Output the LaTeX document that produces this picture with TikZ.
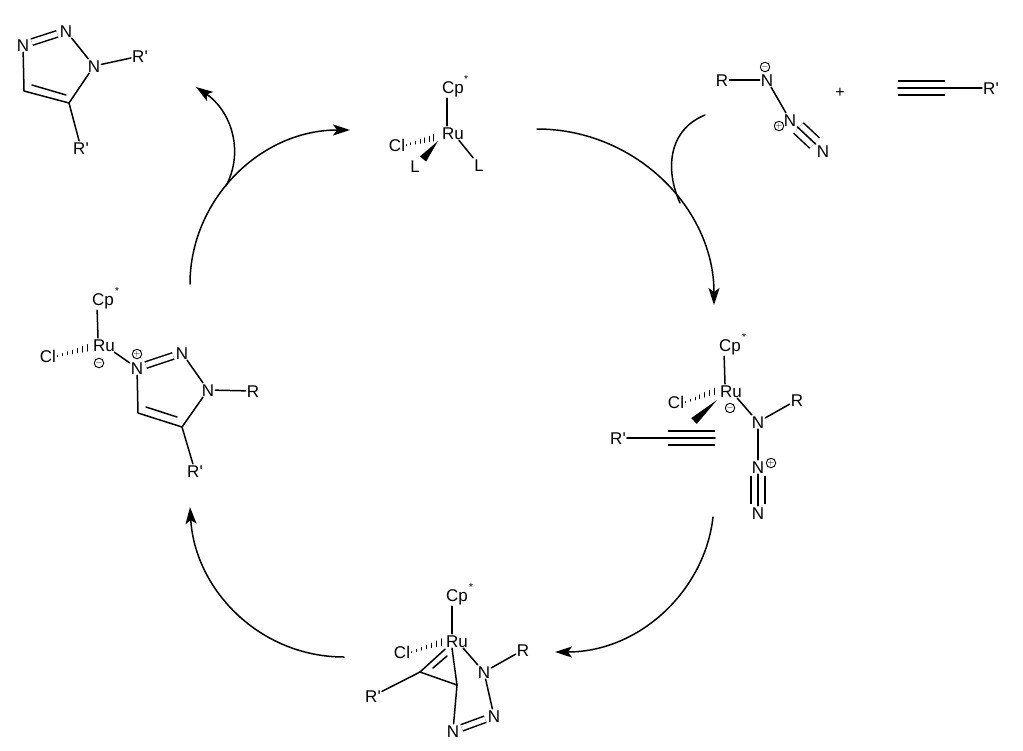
\documentclass[tikz,border=0pt]{standalone}
\usepackage{fontspec}
\setmainfont{Liberation Sans}
\usetikzlibrary{calc}
\usetikzlibrary{arrows.meta}
\newcommand{\Rp}{R\textquotesingle}
\tikzset{
    atom/.style={
        inner sep=1pt, text height=12pt, text depth=0pt,
        font=\fontsize{17}{20}\selectfont
    },
    staratom/.style={
        inner sep=0pt, font=\fontsize{10}{11}\selectfont
    },
    chg/.style={
        circle, draw, line width=0.9pt, minimum size=9pt, inner sep=0pt,
        font=\fontsize{9}{9}\selectfont
    },
    bond/.style={line width=1.5pt},
    cpbond/.style={bond, shorten <=4pt},
    dblbond/.style={bond, line cap=butt, double, double distance=5pt, shorten >=1.5pt, shorten <=1.5pt},
    tplbond/.style={dblbond, double distance=12.6pt},
    cycle/.style={line width=1.5pt, -{Stealth[length=17pt,width=11pt,inset=4pt]}},
    branch/.style={line width=1.5pt}
}
\newcommand{\hashbond}[2]{%
  \foreach \t in {0,0.15,...,1} {
    \pgfmathsetmacro{\h}{0.5+3*\t}
    \draw[line width=1pt] ($(#1)!\t!(#2)+(0,\h)$) -- ($(#1)!\t!(#2)+(0,-\h)$);
  }
}
\newcommand{\wedgebond}[2]{%
  \fill (#1) -- ($(#2)!4pt!90:(#1)$) -- ($(#2)!4pt!-90:(#1)$) -- cycle;
}
\begin{document}
\begin{tikzpicture}[x=1pt,y=-1pt, line cap=round, line join=round]
\useasboundingbox (0,0) rectangle (1023,750);

% product triazole
\node[atom] (pn1) at (23,45) {N};
\node[atom] (pn2) at (66,31) {N};
\node[atom] (pn3) at (94,66) {N};
\node[atom] (pr1) at (140,56) {\Rp};
\node[atom] (pr2) at (81,148) {\Rp};
\coordinate (pc4) at (24,91);
\coordinate (pc5) at (69,103);
\coordinate (pi4) at (32,85);
\coordinate (pi5) at (66,95);
\draw[dblbond] (pn1) -- (pn2);
\draw[bond] (pn2) -- (pn3);
\draw[bond] (pn3) -- (pr1);
\draw[bond] (pn3) -- (pc5);
\draw[bond] (pc5) -- (pc4) -- (pn1);
\draw[bond] (pi4) -- (pi5);
\draw[bond] (pc5) -- (pr2);

% catalyst
\node[atom] (cp1) at (453,87) {Cp};
\node[staratom] (st1) at (466,79) {*};
\node[atom] (ru1) at (453,133) {Ru};
\node[atom] (cl1) at (397,145) {Cl};
\node[atom] (la1) at (415,166) {L};
\node[atom] (lb1) at (479,165) {L};
\coordinate (h1) at (437,137);
\coordinate (wa1) at (438,141);
\coordinate (wb1) at (423,159);
\draw[cpbond] ([xshift=-6pt]cp1.south) -- ([xshift=-6pt]ru1.north);
\hashbond{cl1.east}{h1}
\wedgebond{wa1}{wb1}
\draw[bond] (ru1) -- (lb1);

% azide + alkyne
\node[atom] (ar) at (722,80) {R};
\node[atom] (an1) at (767,80) {N};
\node[chg] (am) at (765,67) {$-$};
\node[atom] (an2) at (790,120) {N};
\node[chg] (ap) at (779,126) {$+$};
\node[atom] (an3) at (823,151) {N};
\node[font=\fontsize{16}{18}\selectfont, inner sep=0pt] (plus) at (840,93) {+};
\coordinate (ya) at (898,88);
\coordinate (yb) at (945,88);
\node[atom] (yr) at (991,88) {\Rp};
\draw[bond] (ar) -- (an1);
\draw[bond] (an1) -- (an2);
\draw[tplbond] (an2) -- (an3);
\draw[bond] (an2) -- (an3);
\draw[tplbond, shorten >=0pt, shorten <=0pt] (ya) -- (yb);
\draw[bond] (ya) -- (yr);

% ruthenium azide complex
\node[atom] (cp2) at (730,345) {Cp};
\node[staratom] (st2) at (744,337) {*};
\node[atom] (ru2) at (731,391) {Ru};
\node[atom] (cl2) at (676,402) {Cl};
\node[chg] (rm2) at (730,408) {$-$};
\node[atom] (bn1) at (758,422) {N};
\node[atom] (br) at (797,400) {R};
\node[atom] (bn2) at (758,467) {N};
\node[chg] (bp) at (771,463) {$+$};
\node[atom] (bn3) at (758,513) {N};
\node[atom] (br2) at (618,438) {\Rp};
\coordinate (ba) at (668,438);
\coordinate (bb) at (715,438);
\coordinate (h2) at (718,390);
\coordinate (wa2) at (717,400);
\coordinate (wb2) at (694,421);
\draw[cpbond] ([xshift=-6pt]cp2.south) -- ([xshift=-6pt]ru2.north);
\hashbond{cl2.east}{h2}
\wedgebond{wa2}{wb2}
\draw[bond] (ru2) -- (bn1);
\draw[bond] (bn1) -- (br);
\draw[bond] (bn1) -- (bn2);
\draw[tplbond] (bn2) -- (bn3);
\draw[bond] (bn2) -- (bn3);
\draw[tplbond, shorten >=0pt, shorten <=0pt] (ba) -- (bb);
\draw[bond] (br2) -- (bb);

% metallacycle
\node[atom] (cp3) at (457,595) {Cp};
\node[staratom] (st3) at (471,587) {*};
\node[atom] (ru3) at (457,641) {Ru};
\node[atom] (cl3) at (402,652) {Cl};
\node[atom] (mr1) at (373,696) {\Rp};
\node[atom] (mn1) at (484,672) {N};
\node[atom] (mr2) at (523,650) {R};
\node[atom] (mn2) at (494,716) {N};
\node[atom] (mn3) at (453,731) {N};
\coordinate (mc1) at (420,672);
\coordinate (mc2) at (457,685);
\coordinate (mi1) at (433,668);
\coordinate (mi2) at (447,656);
\coordinate (h3) at (445,641);
\draw[cpbond] ([xshift=-5pt]cp3.south) -- ([xshift=-5pt]ru3.north);
\hashbond{cl3.east}{h3}
\draw[bond] (mc1) -- ([xshift=-12pt,yshift=-1pt]ru3.south);
\draw[bond] (mi1) -- (mi2);
\draw[bond] (mr1) -- (mc1);
\draw[bond] (mc1) -- (mc2);
\draw[bond] ([xshift=-5pt]ru3.south) -- (mc2);
\draw[bond] (mc2) -- (mn3);
\draw[bond] (ru3) -- (mn1);
\draw[bond] (mn1) -- (mr2);
\draw[bond] (mn1) -- (mn2);
\draw[dblbond] (mn2) -- (mn3);

% triazole complex
\node[atom] (cp4) at (103,299) {Cp};
\node[staratom] (st4) at (117,291) {*};
\node[atom] (ru4) at (104,345) {Ru};
\node[atom] (cl4) at (48,356) {Cl};
\node[chg] (rm4) at (99,363) {$-$};
\node[atom] (tn1) at (137,368) {N};
\node[chg] (tp) at (137,354) {$+$};
\node[atom] (tn2) at (182,353) {N};
\node[atom] (tn3) at (208,390) {N};
\node[atom] (tr1) at (253,391) {R};
\node[atom] (tr2) at (195,471) {\Rp};
\coordinate (tc4) at (138,413);
\coordinate (tc5) at (182,427);
\coordinate (ti4) at (146,407);
\coordinate (ti5) at (177,417);
\coordinate (h4) at (91,347);
\draw[cpbond] ([xshift=-6pt]cp4.south) -- ([xshift=-6pt]ru4.north);
\hashbond{cl4.east}{h4}
\draw[bond] (ru4) -- (tn1);
\draw[dblbond] (tn1) -- (tn2);
\draw[bond] (tn2) -- (tn3);
\draw[bond] (tn3) -- (tr1);
\draw[bond] (tn3) -- (tc5);
\draw[bond] (tc5) -- (tc4) -- (tn1);
\draw[bond] (ti4) -- (ti5);
\draw[bond] (tc5) -- (tr2);

% cycle arrows
\coordinate (as1) at (537,129);
\coordinate (ae1) at (714,305);
\coordinate (as2) at (713,517);
\coordinate (ae2) at (555,652);
\coordinate (as3) at (344,657);
\coordinate (ae3) at (190,507);
\coordinate (as4) at (190,284);
\coordinate (ae4) at (350,130);
\coordinate (bs1) at (705,115);
\coordinate (be1) at (680,203);
\coordinate (bs2) at (226,186);
\coordinate (be2) at (196,87);
\draw[cycle] (as1) .. controls (635,129) and (714,208) .. (ae1);
\draw[cycle] (as2) .. controls (705,590) and (640,652) .. (ae2);
\draw[cycle] (as3) .. controls (260,657) and (195,590) .. (ae3);
\draw[cycle] (as4) .. controls (190,200) and (260,130) .. (ae4);
\draw[branch] (bs1) .. controls (668,130) and (665,170) .. (be1);
\draw[cycle] (bs2) .. controls (245,150) and (230,110) .. (be2);

\end{tikzpicture}
\end{document}
